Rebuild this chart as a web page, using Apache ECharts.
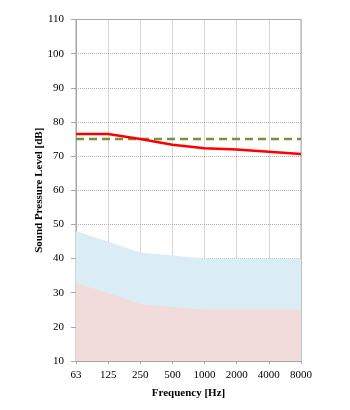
<!DOCTYPE html>
<html>
<head>
<meta charset="utf-8">
<script src="https://cdn.jsdelivr.net/npm/echarts@6/dist/echarts.min.js"></script>
<style>
  html, body { margin: 0; padding: 0; background: #fff; }
  #chart { width: 350px; height: 410px; }
</style>
</head>
<body>
<div id="chart"></div>
<script>
var freqs = ['63', '125', '250', '500', '1000', '2000', '4000', '8000']
var measured = [76.5, 76.5, 75, 73.3, 72.3, 71.9, 71.3, 70.6]
var limit = [75, 75, 75, 75, 75, 75, 75, 75]
var upperBand = [48, 45, 41.8, 40.9, 40, 40, 40, 40]
var lowerBand = [32.8, 29.9, 26.7, 25.8, 25, 25, 25, 25]

var font = 'Liberation Serif'
var chart = echarts.init(document.getElementById('chart'))
chart.setOption({
  animation: false,
  grid: {
    left: 76,
    right: 49,
    top: 19.5,
    bottom: 49,
    show: true,
    borderColor: '#a6a6a6',
    borderWidth: 1
  },
  xAxis: {
    type: 'category',
    data: freqs,
    boundaryGap: false,
    name: 'Frequency [Hz]',
    nameLocation: 'middle',
    nameGap: 27,
    nameMoveOverlap: false,
    nameTextStyle: { fontFamily: font, fontWeight: 'bold', fontSize: 11, color: '#000' },
    axisLine: { lineStyle: { color: '#a6a6a6' } },
    axisTick: { show: true, length: 3, lineStyle: { color: '#a6a6a6' } },
    axisLabel: { fontFamily: font, fontSize: 11, color: '#000', margin: 9 },
    splitLine: { show: true, lineStyle: { color: '#b0b0b0', type: 'dotted' } }
  },
  yAxis: {
    type: 'value',
    min: 10,
    max: 110,
    interval: 10,
    name: 'Sound Pressure Level [dB]',
    nameLocation: 'middle',
    nameGap: 31,
    nameMoveOverlap: false,
    nameTextStyle: { fontFamily: font, fontWeight: 'bold', fontSize: 11, color: '#000' },
    axisLine: { show: true, lineStyle: { color: '#a6a6a6' } },
    axisTick: { show: true, length: 5, lineStyle: { color: '#a6a6a6' } },
    axisLabel: { fontFamily: font, fontSize: 11, color: '#000', margin: 12 },
    splitLine: { show: true, lineStyle: { color: '#b0b0b0', type: 'dotted' } }
  },
  series: [
    {
      type: 'line',
      data: upperBand,
      symbol: 'none',
      lineStyle: { width: 0 },
      areaStyle: { color: '#daedf4', opacity: 1, origin: 'start' },
      z: 1
    },
    {
      type: 'line',
      data: lowerBand,
      symbol: 'none',
      lineStyle: { width: 0 },
      areaStyle: { color: '#f2dbdb', opacity: 1, origin: 'start' },
      z: 2
    },
    {
      type: 'line',
      data: limit,
      symbol: 'none',
      lineStyle: { color: '#77933c', width: 2.5, type: [8, 5] },
      z: 3
    },
    {
      type: 'line',
      data: measured,
      symbol: 'none',
      lineStyle: { color: '#ff0000', width: 2.5 },
      z: 4
    }
  ]
})
</script>
</body>
</html>
